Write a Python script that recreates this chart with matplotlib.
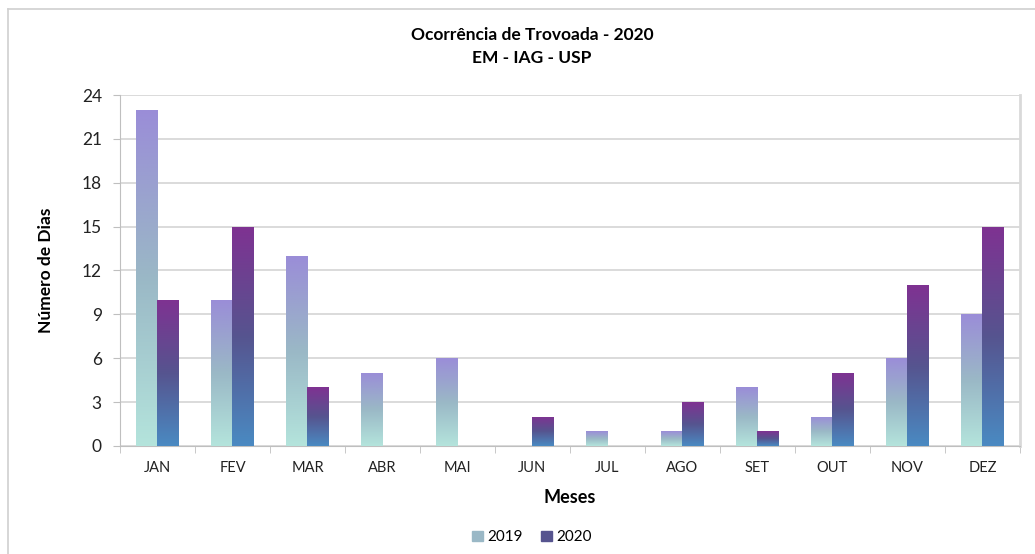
import numpy as np
import matplotlib
matplotlib.use('Agg')
import matplotlib.pyplot as plt
from matplotlib.colors import LinearSegmentedColormap
from matplotlib.lines import Line2D
from matplotlib.patches import Rectangle

months = ['JAN', 'FEV', 'MAR', 'ABR', 'MAI', 'JUN', 'JUL', 'AGO', 'SET', 'OUT', 'NOV', 'DEZ']
days_2019 = [23, 10, 13, 5, 6, 0, 1, 1, 4, 2, 6, 9]
days_2020 = [10, 15, 4, 0, 0, 2, 0, 3, 1, 5, 11, 15]
yticks = [0, 3, 6, 9, 12, 15, 18, 21, 24]

plt.rcParams['font.family'] = ['Lato', 'DejaVu Sans']

# bottom -> top gradients, one per series
cmap_2019 = LinearSegmentedColormap.from_list('c19', ['#b4e4dc', '#9ab8c6', '#9a8dd8'])
cmap_2020 = LinearSegmentedColormap.from_list('c20', ['#4a8ac2', '#56548f', '#7f3292'])

fig = plt.figure(figsize=(10.35, 5.54), dpi=100)
ax = fig.add_axes([0.1159, 0.195, 0.8696, 0.6335])

x = np.arange(len(months))
w = 0.29
grad = np.linspace(0, 1, 256).reshape(-1, 1)


def gradient_bars(xs, heights, cmap, label):
    bars = ax.bar(xs, heights, w, color='none', edgecolor='none', label=label, zorder=3)
    for b in bars:
        h = b.get_height()
        if h <= 0:
            continue
        x0 = b.get_x()
        im = ax.imshow(grad, cmap=cmap, origin='lower', aspect='auto',
                       extent=[x0, x0 + w, 0, h], zorder=3, interpolation='bilinear')
        im.set_clip_path(b)
    return bars


gradient_bars(x - w / 2, days_2019, cmap_2019, '2019')
gradient_bars(x + w / 2, days_2020, cmap_2020, '2020')

ax.set_xlim(-0.5, len(months) - 0.5)
ax.set_ylim(0, 24)
ax.set_yticks(yticks)
ax.tick_params(axis='y', labelsize=12.5, colors='#bfbfbf', labelcolor='#222222', length=5, pad=8)
ax.set_xticks(x)
ax.set_xticklabels(months)
ax.set_xticks(np.arange(-0.5, len(months)), minor=True)
ax.tick_params(axis='x', which='major', length=0, labelsize=10.5, labelcolor='#222222', pad=11)
ax.tick_params(axis='x', which='minor', length=5, color='#bfbfbf')
ax.grid(axis='y', color='#d4d4d4', linewidth=1.2, zorder=0)
ax.set_axisbelow(True)
for s in ['left', 'bottom']:
    ax.spines[s].set_color('#bfbfbf')
ax.spines['right'].set_color('#d9d9d9')
ax.spines['right'].set_linewidth(2)
ax.spines['top'].set_visible(False)

ax.set_ylabel('Número de Dias', fontsize=12.5, fontweight='bold', labelpad=20)
ax.set_xlabel('Meses', fontsize=13, fontweight='bold', labelpad=10)

fig.text(0.514, 0.937, 'Ocorrência de Trovoada - 2020', ha='center', va='center',
         fontsize=12.5, fontweight='bold')
fig.text(0.514, 0.895, 'EM - IAG - USP', ha='center', va='center',
         fontsize=12.5, fontweight='bold')

handles = [Rectangle((0, 0), 1, 1, color=cmap_2019(0.5)), Rectangle((0, 0), 1, 1, color=cmap_2020(0.5))]
fig.legend(handles, ['2019', '2020'], loc='center', bbox_to_anchor=(0.514, 0.03), ncol=2,
           frameon=False, fontsize=11, handlelength=0.7, handleheight=0.7,
           handletextpad=0.3, columnspacing=1.2)

# chart frame (only top and left edges visible)
fig.add_artist(Line2D([8 / 1035, 8 / 1035], [0, 1 - 9 / 554], color='#d0d0d0', lw=1.2))
fig.add_artist(Line2D([8 / 1035, 1], [1 - 9 / 554, 1 - 9 / 554], color='#d0d0d0', lw=1.2))

fig.savefig('out.png', dpi=100)
